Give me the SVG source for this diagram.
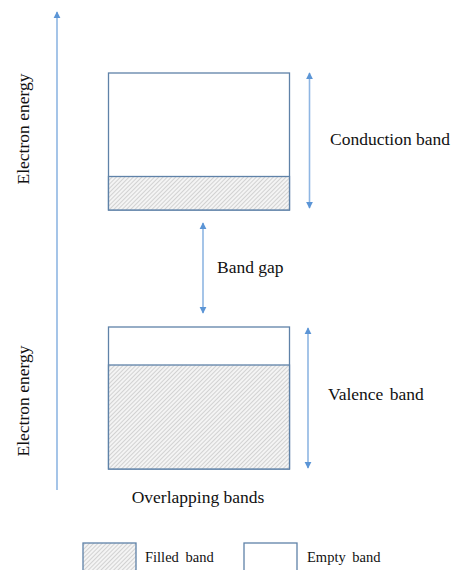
<svg xmlns="http://www.w3.org/2000/svg" width="456" height="570" viewBox="0 0 456 570">
  <style>
    .lbl { font-family: "Liberation Serif", "Times New Roman", serif; font-size: 17.5px; fill: #111; }
    .leg { font-family: "Liberation Serif", "Times New Roman", serif; font-size: 14.5px; fill: #111; word-spacing: 3px; }
    .box { fill: #fff; stroke: #5f82a8; stroke-width: 1.3; }
    .fill { fill: url(#hatch); stroke: #5f82a8; stroke-width: 1.3; }
    .arr { stroke: #8fb6e3; stroke-width: 1.6; fill: none; }
  </style>
  <defs>
    <pattern id="hatch" patternUnits="userSpaceOnUse" width="3" height="3" patternTransform="rotate(45)">
      <rect width="3" height="3" fill="#f4f4f4"/>
      <line x1="0" y1="0" x2="0" y2="3" stroke="#a8a8a8" stroke-width="0.9"/>
    </pattern>
    <marker id="head" viewBox="0 0 10 10" refX="9" refY="5" markerWidth="4.5" markerHeight="4.5" orient="auto-start-reverse" markerUnits="strokeWidth">
      <path d="M0,0 L10,5 L0,10 Z" fill="#5b95d6"/>
    </marker>
  </defs>

  <g id="connectors">
    <line id="energy-axis" class="arr" x1="57" y1="490" x2="57" y2="12" marker-end="url(#head)"/>
    <line id="conduction-span" class="arr" x1="309.5" y1="73" x2="309.5" y2="208" marker-start="url(#head)" marker-end="url(#head)"/>
    <line id="gap-span" class="arr" x1="203" y1="223" x2="203" y2="313" marker-start="url(#head)" marker-end="url(#head)"/>
    <line id="valence-span" class="arr" x1="308" y1="328" x2="308" y2="468" marker-start="url(#head)" marker-end="url(#head)"/>
  </g>

  <g id="conduction-band">
    <rect class="box" x="108.5" y="73" width="181" height="137"/>
    <rect class="fill" x="108.5" y="176.5" width="181" height="33.5"/>
    <text class="lbl" x="330" y="145">Conduction band</text>
  </g>

  <g id="band-gap">
    <text class="lbl" x="217" y="273">Band gap</text>
  </g>

  <g id="valence-band">
    <rect class="box" x="108.5" y="327" width="181" height="142"/>
    <rect class="fill" x="108.5" y="365" width="181" height="104"/>
    <text class="lbl" x="328" y="400" style="word-spacing:2px">Valence band</text>
  </g>

  <g id="axis-labels">
    <text class="lbl" transform="translate(28.5,129) rotate(-90)" text-anchor="middle">Electron energy</text>
    <text class="lbl" transform="translate(28.5,401) rotate(-90)" text-anchor="middle">Electron energy</text>
    <text class="lbl" x="198" y="503" text-anchor="middle">Overlapping bands</text>
  </g>

  <g id="legend-filled">
    <rect class="fill" x="83" y="543" width="53" height="40"/>
    <text class="leg" x="145" y="562">Filled band</text>
  </g>

  <g id="legend-empty">
    <rect class="box" x="244" y="543" width="53" height="40"/>
    <text class="leg" x="307" y="562">Empty band</text>
  </g>
</svg>
